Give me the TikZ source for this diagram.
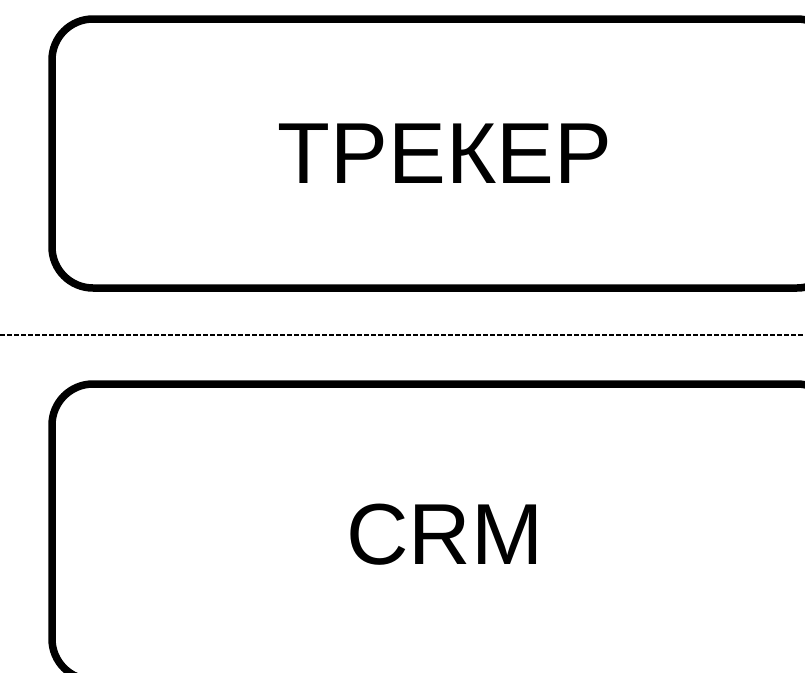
\documentclass[tikz,border=0pt]{standalone}
\usepackage{fontspec}
\setmainfont{Liberation Sans}
\begin{document}
\begin{tikzpicture}[x=1pt,y=-1pt,
  panel/.style={draw=black, line width=7.5pt, rounded corners=41pt, rectangle,
    minimum width=786pt, inner sep=0pt, font=\fontsize{86.6}{100}\selectfont},
  divider/.style={draw=black, line width=1.3pt, dash pattern=on 4.5pt off 2.5pt}]
\useasboundingbox (0,0) rectangle (805,672);
\clip (0,0) rectangle (805,672);
\node[panel, minimum height=269pt] (tracker) at (445,153.5) {ТРЕКЕР};
\node[panel, minimum height=296pt, text height=65pt] (crm) at (445,532) {CRM};
\coordinate (dl) at (0,335);
\coordinate (dr) at (805,335);
\draw[divider] (dl) -- (dr);
\end{tikzpicture}
\end{document}
